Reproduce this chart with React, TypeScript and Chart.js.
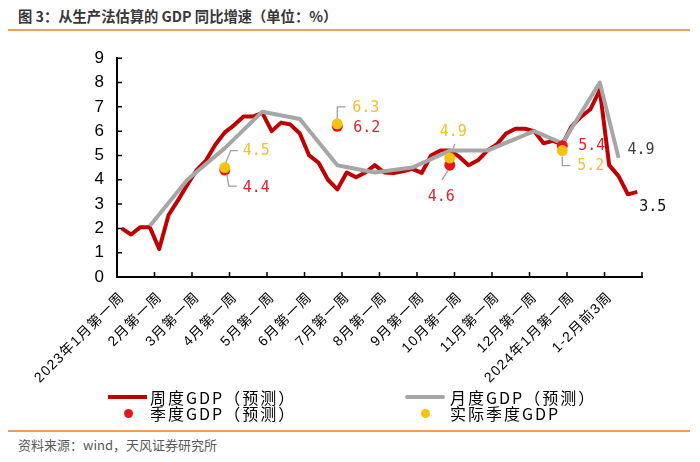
import { useEffect, useRef } from 'react';
import { Chart, registerables } from 'chart.js';

Chart.register(...registerables);

// ---- data ----
const tickLabels = [
  '2023年1月第一周', '2月第一周', '3月第一周', '4月第一周', '5月第一周', '6月第一周',
  '7月第一周', '8月第一周', '9月第一周', '10月第一周', '11月第一周', '12月第一周',
  '2024年1月第一周', '1-2月前3周',
];
const weeksPerTick = 4;

const weeklyGDP = [
  2.0, 1.75, 2.05, 2.05, 1.15, 2.55, 3.15, 3.8,
  4.4, 4.8, 5.45, 5.95, 6.25, 6.6, 6.6, 6.75,
  6.0, 6.35, 6.27, 5.9, 5.0, 4.7, 4.0, 3.6,
  4.3, 4.1, 4.3, 4.6, 4.3, 4.28, 4.35, 4.45,
  4.28, 5.0, 5.2, 5.2, 4.95, 4.6, 4.8, 5.2,
  5.45, 5.9, 6.1, 6.1, 6.0, 5.5, 5.6, 5.45,
  6.2, 6.6, 6.9, 7.7, 4.6, 4.15, 3.4, 3.5,
];

const monthlyIndex = [3, 7, 11, 15, 19, 23, 27, 31, 35, 39, 44, 47, 51, 53];
const monthlyGDP = [2.1, 4.0, 5.3, 6.8, 6.5, 4.6, 4.3, 4.5, 5.2, 5.2, 6.0, 5.5, 8.0, 4.9];

const quarterIndex = [11, 23, 35, 47];
const quarterForecast = [4.4, 6.2, 4.6, 5.4];
const quarterActual = [4.5, 6.3, 4.9, 5.2];

const yTicks = [0, 1, 2, 3, 4, 5, 6, 7, 8, 9];

// ---- styles ----
const RED_LINE = '#C00000';
const GRAY_LINE = '#A6A6A6';
const RED_DOT = '#E8141C';
const YELLOW_DOT = '#F5C211';
const RED_TEXT = '#E0242C';
const YELLOW_TEXT = '#F0C030';
const LEADER = '#A0A0A0';
const CJK = '"Noto Sans CJK SC", sans-serif';
const LATIN_CJK = '"Liberation Sans", "Noto Sans CJK SC", sans-serif';

const categories = weeklyGDP.map((_, i) =>
  i % weeksPerTick === 0 ? tickLabels[i / weeksPerTick] : ''
);

function sparse(indices: number[], values: number[]) {
  const arr: (number | null)[] = weeklyGDP.map(() => null);
  indices.forEach((idx, k) => { arr[idx] = values[k]; });
  return arr;
}

// label layout: which point, colour, offset of text and leader path (relative to point)
type Ann = { idx: number; value: number; color: string; dx: number; dy: number; leader?: [number, number][] };
const annotations: Ann[] = [
  { idx: quarterIndex[0], value: quarterActual[0], color: YELLOW_TEXT, dx: 18, dy: -16, leader: [[1, -5], [6, -17], [13, -17]] },
  { idx: quarterIndex[0], value: quarterForecast[0], color: RED_TEXT, dx: 18, dy: 18, leader: [[2, 4], [4, 16], [12, 16]] },
  { idx: quarterIndex[1], value: quarterActual[1], color: YELLOW_TEXT, dx: 15, dy: -16, leader: [[0, -5], [0, -17], [8, -17]] },
  { idx: quarterIndex[1], value: quarterForecast[1], color: RED_TEXT, dx: 16, dy: 2 },
  { idx: quarterIndex[2], value: quarterActual[2], color: YELLOW_TEXT, dx: -10, dy: -26, leader: [[3, -8], [5, -14]] },
  { idx: quarterIndex[2], value: quarterForecast[2], color: RED_TEXT, dx: -22, dy: 32, leader: [[-1.5, 5], [-8, 15]] },
  { idx: quarterIndex[3], value: quarterForecast[3], color: RED_TEXT, dx: 16, dy: 0 },
  { idx: quarterIndex[3], value: quarterActual[3], color: YELLOW_TEXT, dx: 15, dy: 16, leader: [[0, 6], [0, 15], [8, 15]] },
  { idx: monthlyIndex[monthlyIndex.length - 1], value: monthlyGDP[monthlyGDP.length - 1], color: '#404040', dx: 9, dy: -8 },
  { idx: weeklyGDP.length - 1, value: weeklyGDP[weeklyGDP.length - 1], color: '#111111', dx: 2, dy: 15 },
];

const decorPlugin = {
  id: 'decor',
  afterDatasetsDraw(chart: any) {
    const { ctx, chartArea, scales } = chart;
    const x = scales.x;
    const y = scales.y;
    ctx.save();
    // inward tick marks
    ctx.strokeStyle = '#000';
    ctx.lineWidth = 1.5;
    ctx.beginPath();
    for (let k = 0; k <= tickLabels.length; k++) {
      const px = x.getPixelForValue(k * weeksPerTick - 0.5);
      ctx.moveTo(px, chartArea.bottom);
      ctx.lineTo(px, chartArea.bottom - 5);
    }
    yTicks.forEach((v) => {
      const py = y.getPixelForValue(v);
      ctx.moveTo(chartArea.left, py);
      ctx.lineTo(chartArea.left + 5, py);
    });
    ctx.stroke();

    // rotated category labels (letter-spaced)
    ctx.fillStyle = '#000';
    ctx.font = '14px ' + LATIN_CJK;
    (ctx as any).letterSpacing = '1.2px';
    ctx.textAlign = 'right';
    ctx.textBaseline = 'top';
    tickLabels.forEach((lab, k) => {
      const px = x.getPixelForValue(k * weeksPerTick);
      ctx.save();
      ctx.translate(px - 4, chartArea.bottom + 13);
      ctx.rotate(-Math.PI / 4);
      ctx.fillText(lab, 0, 0);
      ctx.restore();
    });
    (ctx as any).letterSpacing = '0px';

    // data labels
    ctx.font = '15px "DejaVu Sans Mono", monospace';
    ctx.textBaseline = 'middle';
    ctx.textAlign = 'left';
    annotations.forEach((a) => {
      const px = x.getPixelForValue(a.idx);
      const py = y.getPixelForValue(a.value);
      if (a.leader) {
        ctx.strokeStyle = LEADER;
        ctx.lineWidth = 1.3;
        ctx.beginPath();
        a.leader.forEach(([lx, ly], j) => {
          if (j === 0) ctx.moveTo(px + lx, py + ly);
          else ctx.lineTo(px + lx, py + ly);
        });
        ctx.stroke();
      }
      ctx.fillStyle = a.color;
      ctx.fillText(a.value.toFixed(1), px + a.dx, py + a.dy);
    });
    ctx.restore();
  },
};

export default function App() {
  const ref = useRef<HTMLCanvasElement | null>(null);

  useEffect(() => {
    document.body.style.margin = '0';
    if (!ref.current) return;
    const chart = new Chart(ref.current, {
      type: 'line',
      data: {
        labels: categories,
        datasets: [
          {
            label: '实际季度GDP',
            data: sparse(quarterIndex, quarterActual),
            showLine: false,
            pointRadius: 5.5,
            pointBackgroundColor: YELLOW_DOT,
            pointBorderWidth: 0,
            order: 0,
          },
          {
            label: '季度GDP（预测）',
            data: sparse(quarterIndex, quarterForecast),
            showLine: false,
            pointRadius: 5.5,
            pointBackgroundColor: RED_DOT,
            pointBorderWidth: 0,
            order: 1,
          },
          {
            label: '月度GDP（预测）',
            data: sparse(monthlyIndex, monthlyGDP),
            borderColor: GRAY_LINE,
            borderWidth: 4,
            pointRadius: 0,
            spanGaps: true,
            tension: 0,
            borderJoinStyle: 'round',
            order: 2,
          },
          {
            label: '周度GDP（预测）',
            data: weeklyGDP,
            borderColor: RED_LINE,
            borderWidth: 4,
            pointRadius: 0,
            tension: 0,
            borderJoinStyle: 'round',
            order: 3,
          },
        ],
      },
      options: {
        animation: false,
        responsive: false,
        maintainAspectRatio: false,
        layout: { padding: { top: 15, right: 58, left: 0, bottom: 0 } },
        plugins: { legend: { display: false }, tooltip: { enabled: false } },
        scales: {
          x: {
            type: 'category',
            offset: true,
            grid: { display: false, drawTicks: false },
            border: { display: true, color: '#000', width: 2 },
            ticks: { display: false },
            afterFit: (s: any) => { s.height = 113; },
          },
          y: {
            min: 0,
            max: 9,
            grid: { display: false, drawTicks: false },
            border: { display: true, color: '#000', width: 2 },
            ticks: {
              stepSize: 1,
              padding: 13,
              color: '#000',
              font: { family: '"Liberation Sans", sans-serif', size: 17 },
            },
            afterFit: (s: any) => { s.width = 117; },
          },
        },
      },
      plugins: [decorPlugin],
    } as any);
    return () => chart.destroy();
  }, []);

  const abs = (o: any) => ({ position: 'absolute' as const, ...o });
  const legendText = { fontFamily: CJK, fontSize: 16, letterSpacing: 2, color: '#000', lineHeight: '18px', whiteSpace: 'nowrap' as const };

  return (
    <div style={{ position: 'relative', width: 700, height: 462, background: '#fff', overflow: 'hidden' }}>
      <div style={abs({ left: 18, top: 6, fontFamily: CJK, fontWeight: 700, fontSize: 14.3, lineHeight: '20px', color: '#383838', whiteSpace: 'nowrap' })}>
        图 3：从生产法估算的 GDP 同比增速（单位：%）
      </div>
      <div style={abs({ left: 8, top: 29, width: 682, height: 2, background: '#E8A062' })} />
      <canvas ref={ref} width={700} height={355} style={abs({ left: 0, top: 35, width: 700, height: 355 })} />

      <div style={abs({ left: 108, top: 395, width: 39, height: 4, background: RED_LINE })} />
      <div style={abs({ left: 150, top: 388, ...legendText })}>周度GDP（预测）</div>
      <div style={abs({ left: 405, top: 395, width: 40, height: 4, background: GRAY_LINE, borderRadius: 2 })} />
      <div style={abs({ left: 450, top: 388, ...legendText })}>月度GDP（预测）</div>

      <div style={abs({ left: 124, top: 409, width: 9, height: 9, borderRadius: '50%', background: RED_DOT })} />
      <div style={abs({ left: 150, top: 404, ...legendText })}>季度GDP（预测）</div>
      <div style={abs({ left: 421, top: 409, width: 9, height: 9, borderRadius: '50%', background: YELLOW_DOT })} />
      <div style={abs({ left: 450, top: 404, ...legendText })}>实际季度GDP</div>

      <div style={abs({ left: 8, top: 430, width: 682, height: 2, background: '#E8A062' })} />
      <div style={abs({ left: 18, top: 436, fontFamily: CJK, fontSize: 13, lineHeight: '18px', color: '#595959', whiteSpace: 'nowrap' })}>
        资料来源：wind，天风证券研究所
      </div>
    </div>
  );
}
